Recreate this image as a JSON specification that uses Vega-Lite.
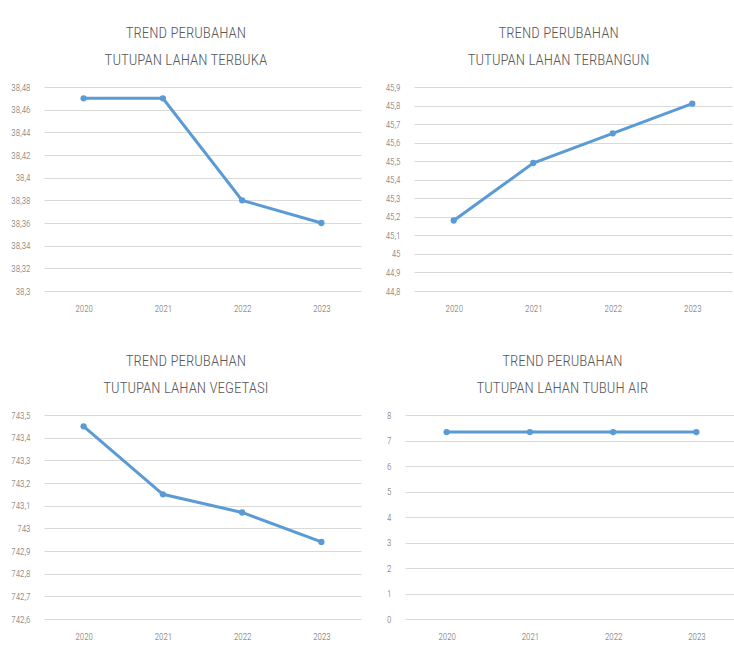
{
  "$schema": "https://vega.github.io/schema/vega-lite/v6.json",
  "padding": {"left": 10, "top": 26, "right": 0, "bottom": 0},
  "background": "white",
  "spacing": 41,
  "vconcat": [
    {
      "spacing": 24,
      "hconcat": [
        {
          "title": {"text": ["TREND PERUBAHAN", "TUTUPAN LAHAN TERBUKA"]},
          "width": 317, "height": 204,
          "data": {"values": [
            {"year": "2020", "value": 38.47},
            {"year": "2021", "value": 38.47},
            {"year": "2022", "value": 38.38},
            {"year": "2023", "value": 38.36}
          ]},
          "mark": {"type": "line", "color": "#5b9bd5", "strokeWidth": 3, "point": {"filled": true, "size": 40, "color": "#5b9bd5"}},
          "encoding": {
            "x": {"field": "year", "type": "ordinal", "scale": {"type": "point", "padding": 0.5}},
            "y": {"field": "value", "type": "quantitative",
                  "scale": {"domain": [38.3, 38.48], "nice": false, "zero": false},
                  "axis": {"values": [38.3, 38.32, 38.34, 38.36, 38.38, 38.4, 38.42, 38.44, 38.46, 38.48], "format": ".4~r"}}
          }
        },
        {
          "title": {"text": ["TREND PERUBAHAN", "TUTUPAN LAHAN TERBANGUN"]},
          "width": 318, "height": 204,
          "data": {"values": [
            {"year": "2020", "value": 45.18},
            {"year": "2021", "value": 45.49},
            {"year": "2022", "value": 45.65},
            {"year": "2023", "value": 45.81}
          ]},
          "mark": {"type": "line", "color": "#5b9bd5", "strokeWidth": 3, "point": {"filled": true, "size": 40, "color": "#5b9bd5"}},
          "encoding": {
            "x": {"field": "year", "type": "ordinal", "scale": {"type": "point", "padding": 0.5}},
            "y": {"field": "value", "type": "quantitative",
                  "scale": {"domain": [44.8, 45.9], "nice": false, "zero": false},
                  "axis": {"values": [44.8, 44.9, 45, 45.1, 45.2, 45.3, 45.4, 45.5, 45.6, 45.7, 45.8, 45.9], "format": ".3~r"}}
          }
        }
      ]
    },
    {
      "spacing": 25,
      "hconcat": [
        {
          "title": {"text": ["TREND PERUBAHAN", "TUTUPAN LAHAN VEGETASI"]},
          "width": 317, "height": 204,
          "data": {"values": [
            {"year": "2020", "value": 743.45},
            {"year": "2021", "value": 743.15},
            {"year": "2022", "value": 743.07},
            {"year": "2023", "value": 742.94}
          ]},
          "mark": {"type": "line", "color": "#5b9bd5", "strokeWidth": 3, "point": {"filled": true, "size": 40, "color": "#5b9bd5"}},
          "encoding": {
            "x": {"field": "year", "type": "ordinal", "scale": {"type": "point", "padding": 0.5}},
            "y": {"field": "value", "type": "quantitative",
                  "scale": {"domain": [742.6, 743.5], "nice": false, "zero": false},
                  "axis": {"values": [742.6, 742.7, 742.8, 742.9, 743, 743.1, 743.2, 743.3, 743.4, 743.5], "format": ".4~r"}}
          }
        },
        {
          "title": {"text": ["TREND PERUBAHAN", "TUTUPAN LAHAN TUBUH AIR"]},
          "width": 333, "height": 204,
          "data": {"values": [
            {"year": "2020", "value": 7.33},
            {"year": "2021", "value": 7.33},
            {"year": "2022", "value": 7.33},
            {"year": "2023", "value": 7.33}
          ]},
          "mark": {"type": "line", "color": "#5b9bd5", "strokeWidth": 3, "point": {"filled": true, "size": 40, "color": "#5b9bd5"}},
          "encoding": {
            "x": {"field": "year", "type": "ordinal", "scale": {"type": "point", "padding": 0.5}},
            "y": {"field": "value", "type": "quantitative",
                  "scale": {"domain": [0, 8], "nice": false},
                  "axis": {"values": [0, 1, 2, 3, 4, 5, 6, 7, 8], "format": "d"}}
          }
        }
      ]
    }
  ],
  "config": {
    "font": "Roboto Condensed, Noto Sans Condensed, Liberation Sans, sans-serif",
    "locale": {"number": {"decimal": ",", "thousands": ".", "grouping": [3], "currency": ["", ""]}},
    "view": {"stroke": null},
    "axis": {
      "title": null,
      "domain": false,
      "ticks": false,
      "labelFont": "Roboto Condensed, Noto Sans Condensed, Liberation Sans, sans-serif",
      "labelFontSize": 9,
      "labelFontWeight": 300,
      "labelColor": "#6b6b6b",
      "gridColor": "#d9d9d9",
      "gridWidth": 1
    },
    "axisX": {"grid": false, "labelAngle": 0, "labelPadding": 13},
    "axisY": {"grid": true, "labelPadding": 14},
    "title": {
      "font": "Roboto Condensed, Noto Sans Condensed, Liberation Sans, sans-serif",
      "fontSize": 15,
      "fontWeight": 300,
      "color": "#595959",
      "lineHeight": 27,
      "anchor": "middle",
      "frame": "bounds",
      "offset": 15
    }
  }
}
